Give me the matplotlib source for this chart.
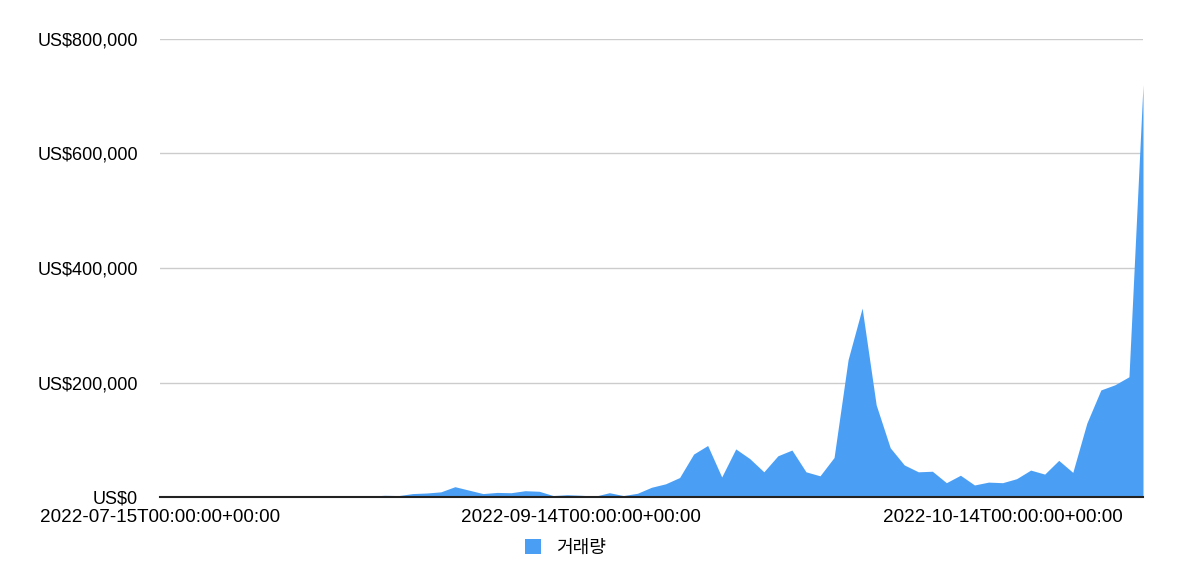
import matplotlib
matplotlib.use("Agg")
import matplotlib.pyplot as plt
from matplotlib.ticker import FuncFormatter
from matplotlib.patches import Patch

plt.rcParams['font.family'] = ['Liberation Sans', 'Noto Sans CJK KR', 'DejaVu Sans']

series_name = "거래량"
tick_labels = ["2022-07-15T00:00:00+00:00", "2022-09-14T00:00:00+00:00", "2022-10-14T00:00:00+00:00"]
tick_step = 30
volume = [
    1500, 1200, 1800, 2500, 1500, 2200, 1800, 1500, 1200, 1800,
    2000, 1500, 2500, 1800, 2200, 1500, 3000, 2500, 6000, 7000,
    9000, 18000, 12000, 6000, 8000, 7500, 11000, 10000, 2500, 4000,
    3000, 1500, 7500, 2500, 6500, 17000, 23000, 34000, 75000, 90000,
    35000, 84000, 67000, 44000, 72000, 82000, 44000, 37000, 69000, 240000,
    330000, 161000, 86000, 56000, 44000, 45000, 25000, 38000, 21000, 26000,
    25000, 32000, 47000, 40000, 64000, 43000, 129000, 187000, 196000, 210000,
    720000,
]
y_ticks = [0, 200000, 400000, 600000, 800000]

color = "#4A9FF5"

fig = plt.figure(figsize=(12, 5.79), dpi=100)
ax = fig.add_axes([160/1200, 1-497/579, (1143-160)/1200, (497-39)/579])

x = list(range(len(volume)))
ax.fill_between(x, 0, volume, color=color, linewidth=0, zorder=2)

ax.set_xlim(0, len(volume)-1)
ax.set_ylim(0, 800000)
ax.set_yticks(y_ticks)
ax.yaxis.set_major_formatter(FuncFormatter(lambda v, p: f"US${int(v):,}"))
ax.set_xticks([i*tick_step for i in range(len(tick_labels))])
ax.set_xticklabels(tick_labels)

ax.grid(axis='y', color='#cccccc', linewidth=1, zorder=0)
ax.set_axisbelow(True)
for s in ['top', 'right', 'left']:
    ax.spines[s].set_visible(False)
ax.spines['bottom'].set_color('#222222')
ax.spines['bottom'].set_linewidth(1.5)
ax.spines['bottom'].set_zorder(3)
ax.tick_params(axis='both', length=0, colors='#000000')
ax.tick_params(axis='y', pad=16, labelsize=13)
ax.tick_params(axis='x', pad=9, labelsize=13.6)

handle = Patch(facecolor=color, edgecolor='none')
leg = fig.legend([handle], [series_name], loc='center', bbox_to_anchor=(0.471, 1-548/579),
                 frameon=False, handlelength=0.9, handleheight=0.9,
                 handletextpad=0.8, prop={'family': ['Noto Sans CJK KR', 'DejaVu Sans'], 'size': 13})

fig.savefig("out.png", dpi=100)
